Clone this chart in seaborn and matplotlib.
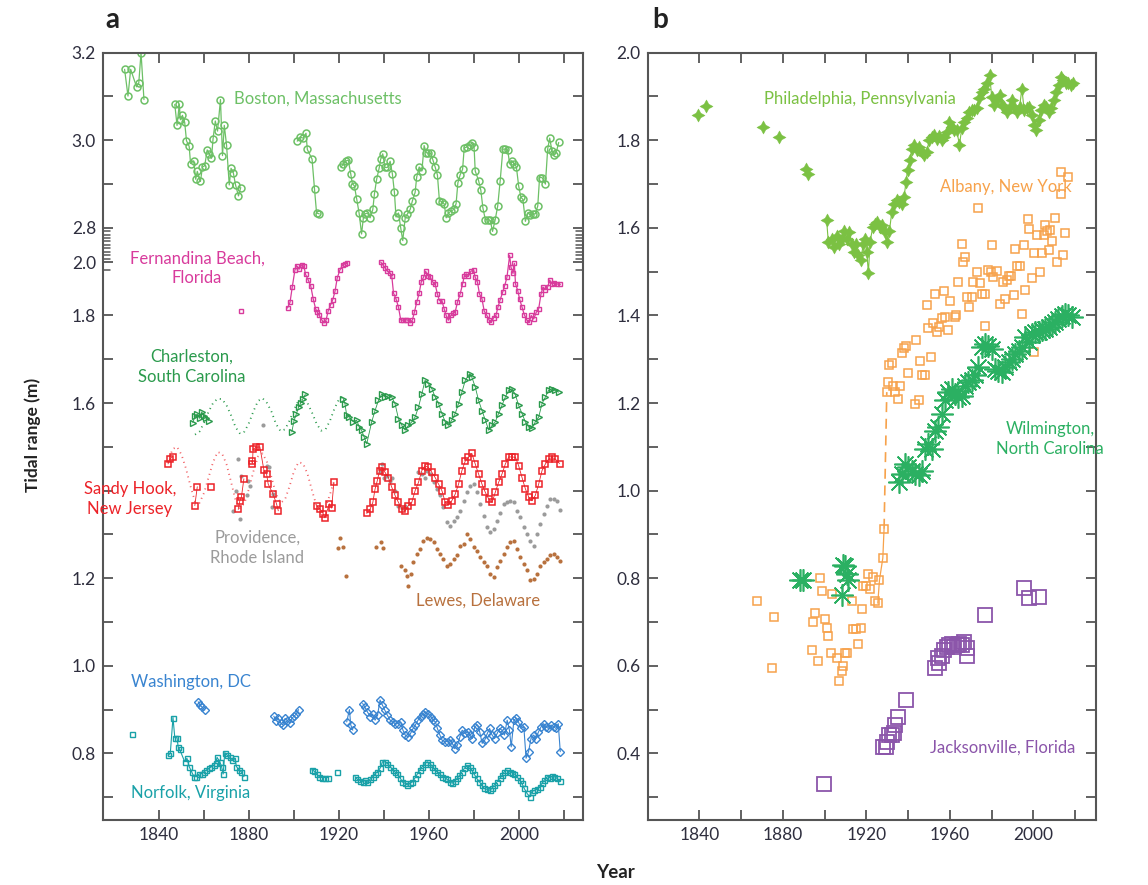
import numpy as np
import pandas as pd
import matplotlib
matplotlib.use("Agg")
import matplotlib.pyplot as plt
import matplotlib.transforms as mtransforms
import seaborn as sns

sns.set_theme(style="ticks")
plt.rcParams['font.family'] = ['Lato', 'DejaVu Sans']

# ---------------- panel a data (tidal range, m) ----------------
boston_years = [1824.7, 1826.2, 1827.4, 1830.0, 1831.0, 1832.0, 1833.3,
                1847.0, 1848.0, 1849.0, 1849.5, 1850.4, 1851.4, 1852.2, 1853.4, 1854.0, 1855.4,
                1856.3, 1857.0, 1858.4, 1859.3, 1860.3, 1861.4, 1862.3, 1863.3, 1864.0, 1865.0,
                1866.0, 1867.3, 1868.2, 1869.0, 1870.0, 1871.2, 1872.0, 1873.0, 1874.0, 1875.3,
                1876.3,
                1901.4, 1902.6, 1904.0, 1905.3, 1905.9, 1908.0, 1909.1, 1910.0, 1911.2,
                1920.9, 1921.9, 1923.1, 1924.1, 1925.2, 1925.9, 1926.8, 1927.8, 1928.9, 1930.0,
                1930.8, 1931.5, 1932.6, 1933.8, 1935.0, 1935.7, 1936.7, 1937.8, 1938.5, 1939.4,
                1940.4, 1941.5, 1942.7, 1943.7, 1944.6, 1945.3, 1946.4, 1947.4, 1948.3, 1949.4,
                1950.4, 1951.6, 1952.6, 1953.8, 1954.5, 1955.6, 1956.8, 1957.8, 1958.7, 1959.7,
                1960.8, 1961.7, 1962.7, 1963.7, 1964.6, 1965.7, 1966.7, 1967.6, 1968.6, 1969.7,
                1970.9, 1972.0, 1972.8, 1973.8, 1974.9, 1975.6, 1976.8, 1978.0, 1979.0, 1980.0,
                1980.5, 1982.0, 1983.0, 1983.9, 1985.0, 1986.1, 1987.2, 1988.2, 1989.4, 1990.5,
                1991.6, 1992.8, 1993.9, 1994.9, 1995.8, 1996.8, 1997.9, 1998.8, 1999.8, 2000.8,
                2001.7, 2002.8, 2003.8, 2005.0, 2006.2, 2007.2, 2008.3, 2009.1, 2010.2, 2011.7,
                2012.7, 2013.6, 2014.6, 2015.6, 2016.5, 2017.6]
boston_vals = [3.162, 3.101, 3.162, 3.122, 3.131, 3.200, 3.093,
               3.082, 3.034, 3.082, 3.047, 3.057, 3.041, 2.999, 2.986, 2.947, 2.953,
               2.911, 2.929, 2.906, 2.939, 2.942, 2.978, 2.969, 2.959, 3.003, 3.044,
               3.021, 3.093, 2.965, 3.034, 2.989, 2.898, 2.936, 2.926, 2.898, 2.873,
               2.892,
               2.998, 3.007, 3.005, 3.016, 2.979, 2.957, 2.888, 2.834, 2.832,
               2.939, 2.946, 2.953, 2.955, 2.923, 2.901, 2.896, 2.867, 2.834, 2.786,
               2.823, 2.832, 2.834, 2.823, 2.842, 2.877, 2.911, 2.936, 2.957, 2.969,
               2.938, 2.938, 2.952, 2.923, 2.881, 2.825, 2.834, 2.800, 2.771, 2.823,
               2.832, 2.842, 2.862, 2.881, 2.916, 2.939, 2.930, 2.988, 2.972, 2.970,
               2.970, 2.955, 2.939, 2.921, 2.862, 2.860, 2.855, 2.823, 2.834, 2.838,
               2.842, 2.855, 2.903, 2.921, 2.934, 2.982, 2.985, 2.990, 2.993, 2.984,
               2.930, 2.908, 2.886, 2.846, 2.819, 2.819, 2.817, 2.792, 2.819, 2.850,
               2.908, 2.980, 2.980, 2.978, 2.947, 2.953, 2.947, 2.939, 2.896, 2.870,
               2.865, 2.815, 2.834, 2.830, 2.832, 2.832, 2.850, 2.915, 2.915, 2.900,
               2.980, 3.005, 2.976, 2.967, 2.972, 2.995]

fern_years = [1876.6,
              1897.1, 1898.2, 1899.2, 1900.4, 1901.1, 1902.3, 1903.4, 1904.4, 1905.1, 1906.3,
              1907.4, 1908.5, 1909.6, 1910.3, 1911.2, 1912.3, 1913.3, 1914.2, 1915.2, 1916.3,
              1917.2, 1918.2, 1919.2, 1920.4, 1921.6, 1922.6, 1923.7,
              1938.5, 1939.4, 1940.4, 1941.5, 1942.7, 1943.4, 1944.2, 1945.3, 1946.4, 1947.4,
              1948.6, 1949.6, 1950.4, 1951.6, 1952.6, 1953.5, 1954.5, 1955.6, 1956.5, 1957.5,
              1958.5, 1959.4, 1960.5, 1961.7, 1962.7, 1963.7, 1964.6, 1965.7, 1966.7, 1967.6,
              1968.6, 1969.7, 1970.6, 1971.6, 1972.6, 1973.8, 1974.9, 1975.6, 1976.5, 1977.5,
              1978.6, 1979.8, 1980.5, 1981.5, 1982.4, 1983.5, 1984.5, 1985.7, 1986.7, 1987.6,
              1988.7, 1989.7, 1990.6, 1991.6, 1992.7, 1993.6, 1994.6, 1995.8, 1996.4, 1997.3,
              1997.9, 1998.4, 1999.4, 2000.2, 2001.3, 2002.3, 2003.5, 2004.5, 2005.4, 2006.5,
              2007.7, 2008.7, 2009.7, 2010.6, 2011.7, 2012.7, 2013.6, 2014.6, 2015.6, 2016.8,
              2018.3]
fern_vals = [1.811,
             1.817, 1.830, 1.865, 1.904, 1.914, 1.906, 1.916, 1.912, 1.894, 1.881,
             1.868, 1.838, 1.815, 1.808, 1.800, 1.790, 1.783, 1.789, 1.811, 1.825,
             1.836, 1.855, 1.886, 1.904, 1.916, 1.918, 1.919,
             1.922, 1.916, 1.909, 1.901, 1.897, 1.891, 1.851, 1.838, 1.819, 1.790,
             1.789, 1.790, 1.790, 1.783, 1.790, 1.808, 1.830, 1.851, 1.876, 1.887,
             1.901, 1.891, 1.887, 1.876, 1.871, 1.849, 1.834, 1.834, 1.815, 1.800,
             1.789, 1.800, 1.805, 1.808, 1.830, 1.849, 1.872, 1.889, 1.895, 1.891,
             1.901, 1.904, 1.887, 1.876, 1.849, 1.838, 1.810, 1.800, 1.789, 1.785,
             1.795, 1.800, 1.819, 1.836, 1.853, 1.868, 1.887, 1.937, 1.910, 1.896,
             1.919, 1.872, 1.857, 1.838, 1.819, 1.802, 1.789, 1.785, 1.800, 1.792,
             1.808, 1.815, 1.848, 1.865, 1.859, 1.865, 1.881, 1.872, 1.874, 1.872,
             1.871]

charl_years = [1855, 1856, 1857, 1858, 1859, 1860, 1861, 1862,
               1899, 1900, 1901, 1902, 1903, 1904, 1905,
               1921.9, 1922.6, 1923.4, 1924.6, 1926.3, 1927.8, 1929.0, 1930.0, 1931.1, 1932.3,
               1934.5, 1936.0, 1937.5, 1939.0, 1940.4, 1941.9, 1943.4, 1944.9, 1946.4, 1947.9,
               1949.4, 1950.8, 1952.3, 1953.8, 1955.3, 1956.8, 1958.2, 1959.7, 1961.2, 1962.7,
               1964.2, 1965.7, 1967.2, 1968.6, 1970.1, 1971.6, 1973.1, 1974.6, 1976.1, 1978.0,
               1979.0, 1980.5, 1982.0, 1983.5, 1985.0, 1986.5, 1988.0, 1989.4, 1990.9, 1992.4,
               1993.9, 1995.4, 1996.9, 1998.4, 1999.8, 2001.3, 2002.8, 2004.3, 2005.7, 2007.2,
               2008.7, 2010.2, 2011.7, 2013.1, 2014.6, 2016.1, 2017.6]
charl_vals = [1.555, 1.570, 1.575, 1.565, 1.580, 1.570, 1.565, 1.560,
              1.534, 1.560, 1.575, 1.590, 1.600, 1.610, 1.620,
              1.610, 1.599, 1.572, 1.568, 1.557, 1.561, 1.545, 1.538, 1.523, 1.507,
              1.557, 1.583, 1.606, 1.621, 1.614, 1.617, 1.614, 1.598, 1.564, 1.549,
              1.538, 1.549, 1.557, 1.568, 1.591, 1.621, 1.652, 1.644, 1.633, 1.614,
              1.599, 1.576, 1.557, 1.549, 1.561, 1.576, 1.599, 1.625, 1.652, 1.667,
              1.659, 1.637, 1.606, 1.583, 1.561, 1.538, 1.549, 1.557, 1.576, 1.595,
              1.614, 1.629, 1.633, 1.618, 1.595, 1.576, 1.557, 1.545, 1.542, 1.557,
              1.568, 1.599, 1.614, 1.629, 1.633, 1.629, 1.625]
charl_fit_years = [1856, 1858, 1860, 1862, 1864, 1866, 1868, 1870, 1872, 1874,
                   1876, 1878, 1880, 1882, 1884, 1886, 1888, 1890, 1892, 1894,
                   1896, 1898, 1900, 1902, 1904, 1906, 1908, 1910, 1912, 1914,
                   1916, 1918, 1920, 1922]
charl_fit_vals = [1.528, 1.535, 1.555, 1.580, 1.600, 1.610, 1.609, 1.595, 1.572, 1.545,
                  1.530, 1.535, 1.555, 1.582, 1.605, 1.611, 1.600, 1.580, 1.552, 1.536,
                  1.540, 1.560, 1.585, 1.606, 1.611, 1.600, 1.578, 1.553, 1.537, 1.540,
                  1.560, 1.588, 1.609, 1.614]

sandy_years = [1844.0, 1844.7, 1846.0, 1855.9, 1857.0, 1863.3,
               1875.2, 1875.9, 1876.6, 1877.7, 1881.1, 1881.5, 1881.8, 1883.3, 1884.8, 1886.6,
               1887.8, 1888.5, 1890.7, 1892.2, 1893.0,
               1910.0, 1911.5, 1913.0, 1913.7, 1915.7, 1916.7, 1917.7,
               1932.3, 1933.8, 1935.0, 1936.0, 1937.0, 1938.0, 1939.0, 1940.4, 1941.9, 1943.4,
               1944.9, 1946.4, 1947.9, 1949.4, 1950.8, 1952.3, 1953.8, 1955.3, 1956.8, 1958.2,
               1959.7, 1961.2, 1962.7, 1964.2, 1965.7, 1967.2, 1968.6, 1970.1, 1971.6, 1973.1,
               1974.6, 1976.1, 1977.5, 1979.0, 1980.5, 1982.0, 1983.5, 1985.0, 1986.5, 1988.0,
               1989.4, 1990.9, 1992.4, 1993.9, 1995.4, 1996.9, 1998.4, 1999.8, 2001.3, 2002.8,
               2004.3, 2005.7, 2007.2, 2008.7, 2010.2, 2011.7, 2013.1, 2014.6, 2016.1, 2018.0]
sandy_vals = [1.461, 1.472, 1.477, 1.366, 1.409, 1.409,
              1.357, 1.377, 1.385, 1.427, 1.468, 1.462, 1.495, 1.499, 1.500, 1.447,
              1.438, 1.415, 1.392, 1.370, 1.354,
              1.366, 1.358, 1.347, 1.338, 1.370, 1.360, 1.419,
              1.348, 1.358, 1.373, 1.404, 1.423, 1.446, 1.453, 1.442, 1.430, 1.408,
              1.389, 1.373, 1.358, 1.354, 1.366, 1.373, 1.400, 1.419, 1.446, 1.457,
              1.453, 1.442, 1.430, 1.415, 1.400, 1.373, 1.368, 1.377, 1.392, 1.415,
              1.446, 1.468, 1.476, 1.485, 1.461, 1.438, 1.415, 1.396, 1.381, 1.373,
              1.396, 1.419, 1.438, 1.461, 1.477, 1.477, 1.476, 1.457, 1.430, 1.404,
              1.385, 1.377, 1.389, 1.415, 1.446, 1.461, 1.472, 1.476, 1.472, 1.462]
sandy_fit_years = [1844, 1846, 1848, 1850, 1852, 1854, 1856, 1858, 1860, 1862,
                   1864, 1866, 1868, 1870, 1872, 1874, 1876, 1878, 1880, 1882,
                   1884, 1886, 1888, 1890, 1892, 1894, 1896, 1898, 1900, 1902,
                   1904, 1906, 1908, 1910, 1912, 1914, 1916, 1918]
sandy_fit_vals = [1.465, 1.495, 1.500, 1.482, 1.450, 1.410, 1.375, 1.372, 1.395, 1.430,
                  1.465, 1.488, 1.485, 1.460, 1.420, 1.378, 1.360, 1.372, 1.405, 1.445,
                  1.478, 1.485, 1.465, 1.430, 1.392, 1.372, 1.380, 1.410, 1.445, 1.465,
                  1.462, 1.438, 1.400, 1.365, 1.352, 1.362, 1.392, 1.425]

prov_years = [1872.9, 1874.0, 1875.2, 1875.9, 1876.6, 1878.9, 1879.6, 1880.4, 1886.0, 1887.8,
              1889.0, 1890.0, 1890.7,
              1938.2, 1939.0, 1939.8, 1941.2, 1942.7, 1943.5, 1944.9, 1946.4, 1947.9, 1949.3,
              1955.3, 1956.8, 1958.2, 1959.0, 1960.5, 1962.0, 1963.4, 1965.0, 1966.4, 1967.9,
              1969.4, 1970.9, 1972.3, 1973.8, 1975.3, 1976.8, 1978.3, 1979.8, 1981.3, 1982.7,
              1984.2, 1985.7, 1987.2, 1988.7, 1990.2, 1991.6, 1993.1, 1994.6, 1996.1, 1997.6,
              1999.1, 2000.5, 2002.0, 2003.5, 2005.0, 2006.5, 2008.0, 2009.4, 2010.9, 2012.4,
              2013.9, 2015.4, 2016.9, 2018.0]
prov_vals = [1.354, 1.400, 1.472, 1.335, 1.434, 1.389, 1.423, 1.411, 1.551, 1.457,
             1.453, 1.362, 1.392,
             1.442, 1.461, 1.430, 1.434, 1.423, 1.430, 1.400, 1.366, 1.360, 1.366,
             1.442, 1.438, 1.430, 1.446, 1.438, 1.419, 1.404, 1.389, 1.362, 1.328,
             1.320, 1.331, 1.339, 1.354, 1.377, 1.396, 1.411, 1.415, 1.396, 1.370,
             1.343, 1.316, 1.305, 1.312, 1.331, 1.350, 1.370, 1.373, 1.377, 1.373,
             1.354, 1.339, 1.316, 1.301, 1.286, 1.274, 1.301, 1.324, 1.347, 1.366,
             1.381, 1.381, 1.377, 1.356]

lewes_years = [1919.6, 1920.3, 1921.8, 1923.3, 1936.6, 1938.8, 1939.6,
               1947.7, 1949.3, 1950.0, 1950.7, 1951.8, 1953.0, 1954.5, 1956.0, 1957.5, 1959.0,
               1960.5, 1962.0, 1963.4, 1964.9, 1966.4, 1967.9, 1969.4, 1970.9, 1972.3, 1973.8,
               1975.3, 1976.8, 1978.3, 1979.8, 1981.3, 1982.7, 1984.2, 1985.7, 1987.2, 1988.7,
               1990.2, 1991.6, 1993.1, 1994.6, 1996.1, 1997.6, 1999.1, 2000.5, 2002.0, 2003.5,
               2005.0, 2006.5, 2008.0, 2009.4, 2010.9, 2012.4, 2013.9, 2015.4, 2016.9, 2018.0]
lewes_vals = [1.269, 1.293, 1.271, 1.206, 1.271, 1.282, 1.269,
              1.229, 1.218, 1.206, 1.183, 1.210, 1.237, 1.256, 1.267, 1.286, 1.293,
              1.290, 1.282, 1.267, 1.256, 1.244, 1.229, 1.233, 1.244, 1.252, 1.274,
              1.278, 1.301, 1.290, 1.271, 1.263, 1.248, 1.237, 1.229, 1.210, 1.202,
              1.225, 1.240, 1.256, 1.271, 1.282, 1.286, 1.267, 1.248, 1.233, 1.218,
              1.195, 1.198, 1.210, 1.229, 1.237, 1.244, 1.252, 1.256, 1.248, 1.240]

wash_years = [1857.4, 1858.2, 1859.3, 1860.3,
              1891, 1892, 1893, 1894, 1895, 1896, 1897, 1898, 1899, 1900, 1901, 1902,
              1923.4, 1924.6, 1925.2, 1926.1,
              1930.5, 1931.5, 1932.6, 1933.8, 1934.9, 1936.0, 1937.1, 1938.2, 1939.3, 1940.3,
              1941.5, 1942.7, 1943.8, 1945.0, 1946.2, 1947.4, 1948.4, 1949.4, 1950.7, 1951.8,
              1952.9, 1953.9, 1955.1, 1956.3, 1957.3, 1958.4, 1959.6, 1960.8, 1961.8, 1962.8,
              1963.7, 1964.8, 1965.8, 1967.0, 1968.2, 1969.2, 1970.3, 1971.4, 1972.6, 1973.7,
              1974.7, 1975.9, 1977.1, 1978.1, 1979.2, 1980.3, 1981.5, 1982.5, 1983.6, 1984.7,
              1985.9, 1986.9, 1988.0, 1989.1, 1990.3, 1991.3, 1992.4, 1993.5, 1994.7, 1995.7,
              1996.5, 1997.7, 1998.7, 1999.7, 2000.9, 2002.1, 2003.1, 2004.2, 2005.3, 2006.5,
              2007.5, 2008.6, 2009.8, 2010.9, 2012.0, 2013.0, 2014.2, 2015.3, 2016.4, 2017.4,
              2018.3]
wash_vals = [0.918, 0.910, 0.905, 0.899,
             0.885, 0.875, 0.880, 0.870, 0.865, 0.880, 0.875, 0.870, 0.880, 0.885, 0.890, 0.900,
             0.872, 0.900, 0.865, 0.853,
             0.914, 0.905, 0.895, 0.884, 0.890, 0.876, 0.887, 0.922, 0.910, 0.899,
             0.887, 0.876, 0.872, 0.868, 0.868, 0.872, 0.853, 0.842, 0.838, 0.846,
             0.857, 0.865, 0.876, 0.884, 0.891, 0.895, 0.891, 0.884, 0.876, 0.872,
             0.857, 0.842, 0.830, 0.827, 0.827, 0.830, 0.823, 0.811, 0.819, 0.838,
             0.853, 0.846, 0.849, 0.842, 0.834, 0.861, 0.865, 0.849, 0.823, 0.830,
             0.846, 0.857, 0.842, 0.834, 0.846, 0.857, 0.853, 0.842, 0.876, 0.853,
             0.815, 0.876, 0.880, 0.872, 0.857, 0.861, 0.789, 0.804, 0.834, 0.842,
             0.834, 0.849, 0.861, 0.868, 0.861, 0.857, 0.865, 0.861, 0.857, 0.868,
             0.804]

norf_years = [1828.1,
              1844.0, 1845.0, 1846.2, 1847.0, 1848.0, 1848.5, 1849.2,
              1851.4, 1852.4, 1853.4, 1854.5, 1855.5, 1856.6, 1857.8, 1858.9, 1860.0, 1861.0,
              1862.3, 1863.3, 1864.3, 1865.2, 1865.8, 1867.0, 1867.8, 1868.5, 1869.2, 1870.3,
              1871.5, 1872.6, 1873.7, 1874.4, 1875.6, 1876.6, 1877.7,
              1907.8, 1908.8, 1910.0, 1911.2, 1912.3, 1913.7, 1915.2,
              1919.2,
              1927.1, 1928.1, 1929.3, 1930.5, 1931.5, 1932.6, 1933.8, 1935.0, 1936.0, 1937.0,
              1938.2, 1939.3, 1940.3, 1941.5, 1942.7, 1943.8, 1944.8, 1945.9, 1947.1, 1948.1,
              1949.2, 1950.4, 1951.5, 1952.6, 1953.6, 1954.8, 1956.0, 1957.0, 1958.0, 1959.2,
              1960.4, 1961.4, 1962.4, 1963.6, 1964.8, 1965.8, 1966.9, 1968.0, 1969.1, 1970.3,
              1971.3, 1972.5, 1973.5, 1974.6, 1975.7, 1976.8, 1978.0, 1979.0, 1980.0, 1981.2,
              1982.4, 1983.4, 1984.5, 1985.7, 1986.9, 1987.9, 1989.0, 1990.2, 1991.4, 1992.4,
              1993.4, 1994.6, 1995.8, 1996.8, 1997.9, 1999.0, 2000.2, 2001.2, 2002.3, 2003.5,
              2004.7, 2005.7, 2006.8, 2008.0, 2009.2, 2010.2, 2011.2, 2012.5, 2013.6, 2014.7,
              2015.7, 2016.9, 2018.0]
norf_vals = [0.844,
             0.796, 0.800, 0.882, 0.836, 0.836, 0.815, 0.809,
             0.781, 0.789, 0.770, 0.758, 0.747, 0.747, 0.753, 0.754, 0.758, 0.762,
             0.766, 0.770, 0.773, 0.779, 0.791, 0.781, 0.770, 0.753, 0.802, 0.796,
             0.791, 0.785, 0.789, 0.770, 0.762, 0.758, 0.747,
             0.763, 0.760, 0.753, 0.747, 0.745, 0.745, 0.745,
             0.758,
             0.747, 0.741, 0.738, 0.735, 0.739, 0.734, 0.741, 0.747, 0.754, 0.758,
             0.766, 0.781, 0.781, 0.777, 0.770, 0.763, 0.758, 0.753, 0.745, 0.735,
             0.732, 0.728, 0.732, 0.735, 0.743, 0.753, 0.763, 0.770, 0.776, 0.781,
             0.777, 0.770, 0.763, 0.758, 0.753, 0.747, 0.745, 0.741, 0.735, 0.732,
             0.738, 0.743, 0.750, 0.758, 0.766, 0.773, 0.770, 0.762, 0.753, 0.743,
             0.735, 0.728, 0.720, 0.718, 0.716, 0.720, 0.728, 0.735, 0.743, 0.750,
             0.758, 0.762, 0.758, 0.756, 0.753, 0.747, 0.739, 0.732, 0.720, 0.709,
             0.701, 0.713, 0.716, 0.718, 0.724, 0.732, 0.739, 0.747, 0.745, 0.748,
             0.747, 0.743, 0.738]

# ---------------- panel b data ----------------
phil_years = [1839.5, 1843.2, 1870.7, 1878.2, 1891.1, 1892.2,
              1901.0, 1901.8, 1903.4, 1904.5, 1905.8, 1907.1, 1908.2, 1909.3, 1910.6, 1911.9,
              1913.0, 1914.1, 1915.1, 1916.2, 1917.3, 1918.6, 1919.4, 1920.2, 1921.0, 1921.8,
              1923.1, 1924.2, 1925.3, 1926.6, 1927.7, 1929.0, 1929.8, 1931.1, 1932.2, 1933.3,
              1934.6, 1935.8, 1937.0, 1938.1, 1939.0, 1939.8, 1941.0, 1941.8, 1942.9, 1944.2,
              1945.4, 1946.5, 1947.7, 1948.9, 1950.2, 1951.3, 1952.5, 1953.7, 1955.0, 1956.1,
              1957.3, 1958.5, 1959.8, 1960.9, 1962.0, 1963.3, 1964.6, 1965.7, 1966.8, 1968.1,
              1969.4, 1970.5, 1971.6, 1972.9, 1974.2, 1975.3, 1976.4, 1977.7, 1979.0, 1980.1,
              1981.2, 1982.5, 1983.8, 1984.9, 1986.0, 1987.3, 1988.6, 1989.7, 1990.8, 1992.1,
              1993.4, 1994.5, 1995.6, 1996.9, 1998.1, 1999.3, 2000.4, 2001.4, 2002.5, 2003.6,
              2004.9, 2006.2, 2007.3, 2008.4, 2009.7, 2011.0, 2012.1, 2013.2, 2014.4, 2015.7,
              2016.8, 2017.9, 2019.2]
phil_vals = [1.857, 1.878, 1.831, 1.808, 1.735, 1.724,
             1.617, 1.568, 1.575, 1.556, 1.581, 1.564, 1.575, 1.594, 1.575, 1.591,
             1.564, 1.545, 1.564, 1.537, 1.526, 1.564, 1.575, 1.545, 1.497, 1.568,
             1.602, 1.610, 1.613, 1.602, 1.606, 1.591, 1.568, 1.594, 1.636, 1.655,
             1.663, 1.659, 1.655, 1.671, 1.705, 1.732, 1.754, 1.781, 1.789, 1.777,
             1.785, 1.774, 1.766, 1.774, 1.800, 1.808, 1.812, 1.804, 1.809, 1.800,
             1.808, 1.819, 1.842, 1.831, 1.823, 1.823, 1.789, 1.827, 1.842, 1.850,
             1.865, 1.869, 1.869, 1.873, 1.896, 1.911, 1.918, 1.930, 1.949, 1.899,
             1.880, 1.892, 1.903, 1.880, 1.876, 1.865, 1.876, 1.892, 1.876, 1.865,
             1.876, 1.918, 1.869, 1.873, 1.876, 1.857, 1.835, 1.823, 1.846, 1.869,
             1.880, 1.876, 1.865, 1.873, 1.892, 1.911, 1.926, 1.945, 1.937, 1.930,
             1.931, 1.926, 1.930]

alb_years = [1867.8, 1874.7, 1875.8, 1893.8, 1894.6, 1895.4, 1896.7, 1897.8, 1898.9, 1900.2,
             1901.0, 1901.8, 1902.9, 1903.7, 1905.8, 1907.1, 1908.2, 1909.0, 1909.8, 1910.9,
             1913.0, 1913.8, 1915.1, 1916.2, 1917.3, 1917.8, 1918.6, 1919.7, 1921.0, 1921.8,
             1923.1, 1924.2, 1925.5, 1926.3, 1927.9, 1928.5, 1929.8, 1930.6, 1931.1, 1932.2,
             1933.0, 1933.8, 1935.4, 1936.2, 1937.0, 1938.1, 1939.0, 1940.2, 1943.4, 1943.9,
             1945.0, 1945.8, 1946.6, 1948.1, 1948.9, 1949.7, 1950.9, 1951.8, 1953.0,
             1953.7, 1955.0, 1956.1, 1957.0, 1957.7, 1959.3, 1960.1, 1962.5, 1963.0,
             1964.1, 1965.7, 1966.5, 1967.3, 1968.1, 1969.4, 1970.5, 1971.3, 1972.9, 1973.7,
             1974.5, 1975.3, 1976.9, 1976.9, 1978.5, 1979.6, 1980.1, 1980.9, 1982.5, 1984.1,
             1985.4, 1986.5, 1987.3, 1988.1, 1989.2, 1990.5, 1991.3, 1992.1, 1993.4, 1994.5,
             1995.3, 1996.1, 1997.6, 1998.1, 1999.2, 2000.1, 2000.1, 2001.7, 2003.3,
             2004.1, 2004.9, 2005.7, 2006.5, 2007.3, 2008.2, 2009.0, 2010.6, 2011.4, 2013.0,
             2013.0, 2014.4, 2015.2, 2016.4]
alb_vals = [0.747, 0.594, 0.712, 0.636, 0.699, 0.720, 0.611, 0.800, 0.771, 0.706,
            0.686, 0.667, 0.629, 0.763, 0.619, 0.565, 0.588, 0.600, 0.630, 0.629,
            0.747, 0.683, 0.683, 0.650, 0.686, 0.729, 0.782, 0.782, 0.810, 0.775,
            0.802, 0.749, 0.743, 0.796, 0.846, 0.913, 1.225, 1.248, 1.286, 1.291,
            1.238, 1.225, 1.210, 1.238, 1.314, 1.326, 1.331, 1.268, 1.198, 1.344,
            1.206, 1.297, 1.265, 1.263, 1.425, 1.372, 1.306, 1.382, 1.449,
            1.362, 1.373, 1.395, 1.457, 1.396, 1.367, 1.434, 1.396, 1.400,
            1.476, 1.564, 1.522, 1.533, 1.443, 1.420, 1.442, 1.476, 1.499, 1.646,
            1.474, 1.449, 1.375, 1.449, 1.504, 1.499, 1.560, 1.488, 1.501, 1.427,
            1.476, 1.438, 1.480, 1.491, 1.491, 1.446, 1.552, 1.514, 1.514, 1.404,
            1.560, 1.459, 1.621, 1.598, 1.485, 1.316, 1.542, 1.583, 1.499,
            1.542, 1.583, 1.606, 1.594, 1.549, 1.596, 1.570, 1.623, 1.522, 1.677,
            1.728, 1.537, 1.588, 1.716]

wilm_years = [1888.2, 1889.8, 1908.2, 1909.0, 1909.8, 1910.6, 1911.4,
              1935.8, 1937.0, 1938.6, 1940.2, 1941.8, 1943.4, 1945.0, 1946.5, 1948.1, 1949.7,
              1951.3, 1952.9, 1954.5, 1956.1, 1957.7, 1959.3, 1960.9, 1962.5, 1964.1, 1965.7,
              1967.3, 1968.9, 1970.5, 1972.1, 1973.7, 1975.3, 1976.9, 1978.5, 1980.1, 1981.7,
              1983.3, 1984.9, 1986.5, 1988.1, 1989.7, 1991.3, 1992.9, 1994.5, 1996.1, 1997.7,
              1999.3, 2000.9, 2002.5, 2004.1, 2005.7, 2007.3, 2008.9, 2010.4, 2012.0, 2013.6,
              2015.2, 2016.8, 2018.4]
wilm_vals = [0.797, 0.795, 0.761, 0.830, 0.829, 0.810, 0.795,
             1.020, 1.039, 1.061, 1.054, 1.046, 1.039, 1.035, 1.046, 1.096, 1.107,
             1.096, 1.137, 1.145, 1.175, 1.206, 1.225, 1.233, 1.221, 1.214, 1.217,
             1.240, 1.248, 1.252, 1.263, 1.282, 1.328, 1.335, 1.331, 1.324, 1.278,
             1.274, 1.271, 1.282, 1.293, 1.301, 1.312, 1.320, 1.328, 1.351, 1.339,
             1.358, 1.362, 1.362, 1.366, 1.370, 1.373, 1.381, 1.385, 1.392, 1.398,
             1.404, 1.400, 1.396]

jax_years = [1899.9, 1928.2, 1929.5, 1930.1, 1931.1, 1932.2, 1933.3, 1933.8, 1935.4, 1939.0,
             1952.9, 1954.1, 1955.0, 1956.1, 1957.3, 1958.5, 1959.8, 1960.9, 1962.0, 1963.3,
             1964.6, 1965.7, 1966.8, 1968.1, 1968.4, 1976.9, 1995.3, 1998.1, 2002.5]
jax_vals = [0.331, 0.414, 0.415, 0.427, 0.442, 0.442, 0.446, 0.465, 0.484, 0.522,
            0.594, 0.617, 0.606, 0.622, 0.636, 0.644, 0.648, 0.651, 0.644, 0.648,
            0.651, 0.648, 0.655, 0.640, 0.622, 0.716, 0.777, 0.754, 0.758]

# Boston is drawn shifted down so it fits above the other gauges
boston_shift = -0.8


def to_frame(years, vals, shift=0.0, gap=3.0):
    df = pd.DataFrame({'year': years, 'val': np.asarray(vals, dtype=float) + shift})
    df['seg'] = (df['year'].diff() > gap).cumsum()
    return df


def draw(ax, years, vals, color, marker=None, ms=4, lw=0.8, ls='-', mfc='none',
         mew=1.0, shift=0.0, gap=3.0, alpha=1.0):
    df = to_frame(years, vals, shift, gap)
    kw = dict(color=color, lw=lw, ls=ls, alpha=alpha)
    if marker is not None:
        kw.update(marker=marker, ms=ms, mfc=mfc, mec=color, mew=mew)
    sns.lineplot(data=df, x='year', y='val', units='seg', estimator=None, sort=False,
                 legend=False, ax=ax, **kw)


c_boston = '#6dc066'
c_fern = '#d83b9c'
c_charl = '#2a9a4c'
c_sandy = '#ec2228'
c_prov = '#9b9b9b'
c_lewes = '#b8713e'
c_wash = '#3984d0'
c_norf = '#19a1a8'
c_phil = '#7bc143'
c_alb = '#f7a24b'
c_wilm = '#2bb062'
c_jax = '#8b55aa'

fig = plt.figure(figsize=(11.48, 8.85), dpi=100)
W, H = 1148, 885
ax_a = fig.add_axes([103 / W, 1 - 820 / H, (583 - 103) / W, (820 - 52.7) / H])
ax_b = fig.add_axes([647.7 / W, 1 - 820 / H, (1096 - 647.7) / W, (820 - 52.7) / H])

# ---------- panel a ----------
draw(ax_a, charl_fit_years, charl_fit_vals, c_charl, lw=1.3, ls=(0, (0.6, 2.2)), gap=10)
draw(ax_a, sandy_fit_years, sandy_fit_vals, c_sandy, lw=1.3, ls=(0, (0.6, 2.2)), gap=10, alpha=0.7)
draw(ax_a, boston_years, boston_vals, c_boston, 'o', ms=5, lw=0.9, mew=1.1, shift=boston_shift)
draw(ax_a, fern_years, fern_vals, c_fern, 's', ms=3.2, lw=0.9)
draw(ax_a, charl_years, charl_vals, c_charl, '>', ms=5, lw=0.6)
draw(ax_a, prov_years, prov_vals, c_prov, 'o', ms=3, lw=0, mfc=c_prov, mew=0)
draw(ax_a, lewes_years, lewes_vals, c_lewes, 'o', ms=3, lw=0, mfc=c_lewes, mew=0)
draw(ax_a, sandy_years, sandy_vals, c_sandy, 's', ms=4, lw=0.6, mew=1.1)
draw(ax_a, wash_years, wash_vals, c_wash, 'D', ms=4, lw=0.8)
draw(ax_a, norf_years, norf_vals, c_norf, 's', ms=3.6, lw=0.8)

ax_a.set_xlim(1815.1, 2028.4)
ax_a.set_ylim(0.648, 2.4)

# axis break in panel a between the Boston scale and the lower scale
fern_top = 1.921
ax_a.set_yticks([0.8, 1.0, 1.2, 1.6, 1.8, fern_top, 2.0, 2.2, 2.4])
ax_a.set_yticklabels(['0.8', '1.0', '1.2', '1.6', '1.8', '2.0', '2.8', '3.0', '3.2'])
ax_a.set_yticks([0.7, 0.9, 1.1, 1.3, 1.4, 1.5, 1.7, 2.1, 2.3], minor=True)
trans = mtransforms.blended_transform_factory(ax_a.transAxes, ax_a.transData)
for yy in list(np.arange(1.93, 1.995, 0.0078)) + [1.903]:
    ax_a.plot([0, 0.014], [yy, yy], color='#555555', lw=1.1, transform=trans, clip_on=False)
    ax_a.plot([0.986, 1], [yy, yy], color='#555555', lw=1.1, transform=trans, clip_on=False)

# ---------- panel b ----------
alb = pd.DataFrame({'year': alb_years, 'val': alb_vals})
jump = alb[(alb['year'] >= 1925) & (alb['year'] <= 1929)]
sns.lineplot(data=jump, x='year', y='val', sort=False, estimator=None, ax=ax_b,
             color=c_alb, lw=0.9, legend=False)
step = alb[(alb['year'] >= 1928.4) & (alb['year'] <= 1929.9)]
sns.lineplot(data=step, x='year', y='val', sort=False, estimator=None, ax=ax_b,
             color=c_alb, lw=1.2, ls=(0, (6, 4)), legend=False)
draw(ax_b, alb_years, alb_vals, c_alb, 's', ms=6, lw=0, mew=1.1)
draw(ax_b, phil_years, phil_vals, c_phil, (4, 1, 0), ms=9.5, lw=0.8, mfc=c_phil, mew=0.3)
draw(ax_b, wilm_years, wilm_vals, c_wilm, (8, 2, 0), ms=16, lw=0, mew=1.2)
draw(ax_b, jax_years, jax_vals, c_jax, 's', ms=9.5, lw=0, mew=1.3)

ax_b.set_xlim(1815.3, 2030)
ax_b.set_ylim(0.248, 2.0)
ax_b.set_yticks(np.arange(0.4, 2.01, 0.2))
ax_b.set_yticklabels(['%.1f' % v for v in np.arange(0.4, 2.01, 0.2)])
ax_b.set_yticks(np.arange(0.3, 1.95, 0.2), minor=True)

for ax in (ax_a, ax_b):
    ax.set_xlabel('')
    ax.set_ylabel('')
    ax.set_xticks([1840, 1880, 1920, 1960, 2000])
    ax.set_xticklabels(['1840', '1880', '1920', '1960', '2000'])
    ax.set_xticks([1860, 1900, 1940, 1980, 2020], minor=True)
    ax.tick_params(which='both', direction='in', top=True, right=True, length=7,
                   width=1.3, color='#555555', labelsize=12.5, labelcolor='#2e2e3e', pad=5)
    for sp in ax.spines.values():
        sp.set_color('#555555')
        sp.set_linewidth(1.5)
    ax.grid(False)

# station labels
lab = dict(fontsize=12)
ax_a.text(1873.4, 2.294, 'Boston, Massachusetts', color=c_boston, ha='left', va='center', **lab)
ax_a.text(1856.9, 1.908, 'Fernandina Beach,\nFlorida', color=c_fern, ha='center', va='center',
          linespacing=1.3, **lab)
ax_a.text(1854.7, 1.683, 'Charleston,\nSouth Carolina', color=c_charl, ha='center', va='center',
          linespacing=1.3, **lab)
ax_a.text(1827.1, 1.381, 'Sandy Hook,\nNew Jersey', color=c_sandy, ha='center', va='center',
          linespacing=1.3, **lab)
ax_a.text(1883.7, 1.269, 'Providence,\nRhode Island', color=c_prov, ha='center', va='center',
          linespacing=1.3, **lab)
ax_a.text(1954.1, 1.148, 'Lewes, Delaware', color=c_lewes, ha='left', va='center', **lab)
ax_a.text(1827.5, 0.963, 'Washington, DC', color=c_wash, ha='left', va='center', **lab)
ax_a.text(1827.5, 0.709, 'Norfolk, Virginia', color=c_norf, ha='left', va='center', **lab)

ax_b.text(1871.0, 1.894, 'Philadelphia, Pennsylvania', color=c_phil, ha='left', va='center', **lab)
ax_b.text(1955.3, 1.693, 'Albany, New York', color=c_alb, ha='left', va='center', **lab)
ax_b.text(2008.0, 1.118, 'Wilmington,\nNorth Carolina', color=c_wilm, ha='center', va='center',
          linespacing=1.3, **lab)
ax_b.text(1950.5, 0.414, 'Jacksonville, Florida', color=c_jax, ha='left', va='center', **lab)

fig.text(112 / W, 1 - 20 / H, 'a', fontsize=20, fontweight='bold', ha='center', va='center',
         color='#222222')
fig.text(660 / W, 1 - 20 / H, 'b', fontsize=20, fontweight='bold', ha='center', va='center',
         color='#222222')
fig.text(33 / W, 1 - 435 / H, 'Tidal range (m)', rotation=90, fontsize=12.5, fontweight='bold',
         ha='center', va='center', color='#222222')
fig.text(615 / W, 1 - 873 / H, 'Year', fontsize=13.5, fontweight='bold', ha='center',
         va='center', color='#222222')

fig.savefig('out.png', dpi=100)
